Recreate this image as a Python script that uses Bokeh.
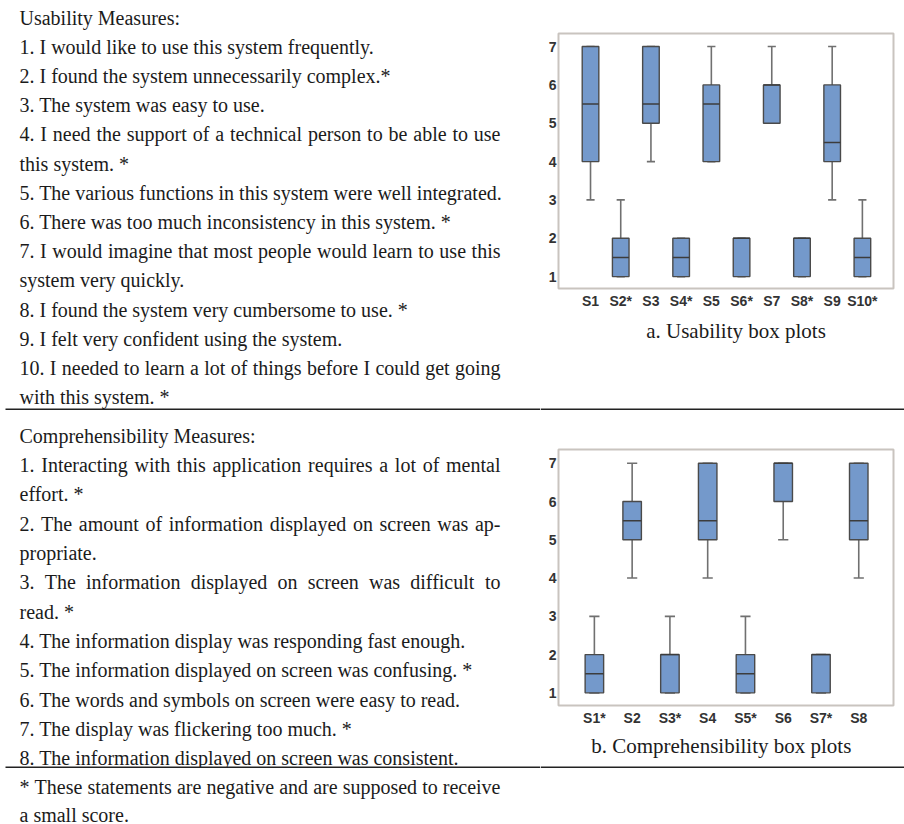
from bokeh.plotting import figure
from bokeh.layouts import row, column
from bokeh.models import Range1d, FixedTicker, ColumnDataSource
from bokeh.core.properties import value
from bokeh.embed import file_html
from bokeh.resources import INLINE

# ---------------- data ----------------
usab_labels = ["S1", "S2*", "S3", "S4*", "S5", "S6*", "S7", "S8*", "S9", "S10*"]
usab_low = [3, 1, 4, 1, 4, 1, 5, 1, 3, 1]
usab_q1 = [4, 1, 5, 1, 4, 1, 5, 1, 4, 1]
usab_med = [5.5, 1.5, 5.5, 1.5, 5.5, 2, 6, 2, 4.5, 1.5]
usab_q3 = [7, 2, 7, 2, 6, 2, 6, 2, 6, 2]
usab_high = [7, 3, 7, 2, 7, 2, 7, 2, 7, 3]

comp_labels = ["S1*", "S2", "S3*", "S4", "S5*", "S6", "S7*", "S8"]
comp_low = [1, 4, 1, 4, 1, 5, 1, 4]
comp_q1 = [1, 5, 1, 5, 1, 6, 1, 5]
comp_med = [1.5, 5.5, 2, 5.5, 1.5, 7, 2, 5.5]
comp_q3 = [2, 6, 2, 7, 2, 7, 2, 7]
comp_high = [3, 7, 3, 7, 3, 7, 2, 7]

y_ticks = [1, 2, 3, 4, 5, 6, 7]

usab_text = [
    "Usability Measures:",
    "1. I would like to use this system frequently.",
    "2. I found the system unnecessarily complex.*",
    "3. The system was easy to use.",
    "4. I need the support of a technical person to be able to use",
    "this system. *",
    "5. The various functions in this system were well integrated.",
    "6. There was too much inconsistency in this system. *",
    "7. I would imagine that most people would learn to use this",
    "system very quickly.",
    "8. I found the system very cumbersome to use. *",
    "9. I felt very confident using the system.",
    "10. I needed to learn a lot of things before I could get going",
    "with this system. *",
]
usab_just = [0, 0, 0, 0, 1, 0, 0, 0, 1, 0, 0, 0, 1, 0]

comp_text = [
    "Comprehensibility Measures:",
    "1. Interacting with this application requires a lot of mental",
    "effort. *",
    "2. The amount of information displayed on screen was ap-",
    "propriate.",
    "3. The information displayed on screen was difficult to",
    "read. *",
    "4. The information display was responding fast enough.",
    "5. The information displayed on screen was confusing. *",
    "6. The words and symbols on screen were easy to read.",
    "7. The display was flickering too much. *",
    "8. The information displayed on screen was consistent.",
]
comp_just = [0, 1, 0, 1, 0, 1, 0, 0, 0, 0, 0, 0]

foot_text = [
    "* These statements are negative and are supposed to receive",
    "a small score.",
]
foot_just = [1, 0]

caption_a = "a. Usability box plots"
caption_b = "b. Comprehensibility box plots"

# ---------------- style ----------------
SERIF = "Liberation Serif"
SANS = "Liberation Sans"
TXT = "#1b1b1b"
RULE = "#222222"
BOX_FILL = "#7499CB"
BOX_EDGE = "#4a4a4a"
WHISK = "#707070"
FRAME = "#c9c4bf"
FS = 20
CAP_FS = 21

# Times / Liberation Serif advance widths (per 1000 em)
TW = {" ": 250, "!": 333, "*": 500, ",": 250, "-": 333, ".": 250, ":": 278,
      "0": 500, "1": 500, "2": 500, "3": 500, "4": 500, "5": 500, "6": 500,
      "7": 500, "8": 500, "9": 500,
      "A": 722, "B": 667, "C": 667, "D": 722, "E": 611, "F": 556, "G": 722,
      "H": 722, "I": 333, "J": 389, "K": 722, "L": 611, "M": 889, "N": 722,
      "O": 722, "P": 556, "Q": 722, "R": 667, "S": 556, "T": 611, "U": 722,
      "V": 722, "W": 944, "X": 722, "Y": 722, "Z": 611,
      "a": 444, "b": 500, "c": 444, "d": 500, "e": 444, "f": 333, "g": 500,
      "h": 500, "i": 278, "j": 278, "k": 500, "l": 278, "m": 778, "n": 500,
      "o": 500, "p": 500, "q": 500, "r": 333, "s": 389, "t": 278, "u": 500,
      "v": 500, "w": 722, "x": 500, "y": 500, "z": 444}


def tw(s, size):
    return sum(TW.get(c, 500) for c in s) * size / 1000.0


def blank_fig(w, h):
    p = figure(width=w, height=h, x_range=Range1d(0, w), y_range=Range1d(h, 0),
               output_backend="svg", toolbar_location=None, min_border=0,
               x_axis_location=None, y_axis_location=None)
    p.grid.visible = False
    p.outline_line_color = None
    return p


def add_rule(p, x0, x1, y):
    p.segment(x0=[x0], y0=[y], x1=[x1], y1=[y], line_color=RULE, line_width=2)


def add_lines(p, lines, just, x0, y0, dy, right, size):
    xs, ys, ts = [], [], []
    for i, (txt, j) in enumerate(zip(lines, just)):
        y = y0 + i * dy
        if j:
            words = txt.split(" ")
            wsum = sum(tw(w, size) for w in words)
            gap = (right - x0 - wsum) / (len(words) - 1)
            x = x0
            for w in words:
                xs.append(x); ys.append(y); ts.append(w)
                x += tw(w, size) + gap
        else:
            xs.append(x0); ys.append(y); ts.append(txt)
    p.text(x=xs, y=ys, text=ts, text_font=value(SERIF), text_font_size=f"{size}px",
           text_baseline="middle", text_align="left", text_color=TXT)


def box_fig(labels, lo, q1, med, q3, hi, w, h, xr, yr, mtop, mbot, box_w, cap_w):
    xs = list(range(1, len(labels) + 1))
    p = figure(width=w, height=h, x_range=Range1d(*xr), y_range=Range1d(*yr),
               output_backend="svg", toolbar_location=None,
               min_border_left=18, min_border_right=11,
               min_border_top=mtop, min_border_bottom=mbot)
    p.grid.visible = False
    p.outline_line_color = FRAME
    p.outline_line_width = 2
    src = ColumnDataSource(dict(
        x=xs, lo=lo, q1=q1, med=med, q3=q3, hi=hi,
        cl=[x - cap_w / 2 for x in xs], cr=[x + cap_w / 2 for x in xs],
        bl=[x - box_w / 2 for x in xs], br=[x + box_w / 2 for x in xs]))
    p.segment(x0="x", y0="q3", x1="x", y1="hi", source=src, line_color=WHISK, line_width=1.6)
    p.segment(x0="x", y0="lo", x1="x", y1="q1", source=src, line_color=WHISK, line_width=1.6)
    p.segment(x0="cl", y0="hi", x1="cr", y1="hi", source=src, line_color=WHISK, line_width=1.6)
    p.segment(x0="cl", y0="lo", x1="cr", y1="lo", source=src, line_color=WHISK, line_width=1.6)
    p.vbar(x="x", width=box_w, bottom="q1", top="q3", source=src,
           fill_color=BOX_FILL, line_color=BOX_EDGE, line_width=1.4)
    p.segment(x0="bl", y0="med", x1="br", y1="med", source=src, line_color="#3c3c3c", line_width=1.5)

    for ax in (p.xaxis[0], p.yaxis[0]):
        ax.axis_line_color = None
        ax.major_tick_line_color = None
        ax.minor_tick_line_color = None
        ax.major_tick_out = 0
        ax.major_tick_in = 0
        ax.minor_tick_out = 0
        ax.minor_tick_in = 0
        ax.major_label_text_font = SANS
        ax.major_label_text_font_style = "bold"
        ax.major_label_text_font_size = "14px"
        ax.major_label_text_color = "#333333"
    p.xaxis.ticker = FixedTicker(ticks=xs)
    p.xaxis.major_label_overrides = {x: lab for x, lab in zip(xs, labels)}
    p.xaxis.major_label_standoff = 4
    p.yaxis.ticker = FixedTicker(ticks=y_ticks)
    p.yaxis.major_label_standoff = 2
    return p


def caption_fig(w, h, text, cx, cy, rule_y):
    p = blank_fig(w, h)
    p.text(x=[cx], y=[cy], text=[text], text_font=value(SERIF),
           text_font_size=f"{CAP_FS}px", text_baseline="middle",
           text_align="center", text_color=TXT)
    add_rule(p, 0, w, rule_y)
    return p


LEFT_W = 540
RIGHT_W = 364

# ---- section A (page y 0..410, rule at 409) ----
HA = 410
textA = blank_fig(LEFT_W, HA)
add_lines(textA, usab_text, usab_just, 19, 17, 29.2, 500, FS)
add_rule(textA, 5, LEFT_W, 409)
PA = 315
plotA = box_fig(usab_labels, usab_low, usab_q1, usab_med, usab_q3, usab_high,
                RIGHT_W, PA, (-0.06, 11.03), (0.69, 7.34), 33, PA - 288, 0.55, 0.27)
capA = caption_fig(RIGHT_W, HA - PA, caption_a, 735.5 - LEFT_W, 330 - PA, 409 - PA)

# ---- section B (page y 410..768, rule at 767) ----
B0 = 410
HB = 358
textB = blank_fig(LEFT_W, HB)
add_lines(textB, comp_text, comp_just, 19, 435 - B0, 29.36, 500, FS)
add_rule(textB, 5, LEFT_W, 767 - B0)
PB = 320
plotB = box_fig(comp_labels, comp_low, comp_q1, comp_med, comp_q3, comp_high,
                RIGHT_W, PB, (0.05, 8.92), (0.67, 7.36), 449 - B0, B0 + PB - 705, 0.49, 0.27)
capB = caption_fig(RIGHT_W, HB - PB, caption_b, 720.8 - LEFT_W, 745 - B0 - PB, 767 - B0 - PB)

# ---- footer (page y 768..824) ----
F0 = 768
foot = blank_fig(904, 824 - F0)
add_lines(foot, foot_text, foot_just, 19, 786 - F0, 28.0, 500, FS)

layout = column(
    row(column(textA), column(column(plotA), column(capA))),
    row(column(textB), column(column(plotB), column(capB))),
    column(foot),
)

open("out.html", "w").write(file_html(layout, INLINE))
